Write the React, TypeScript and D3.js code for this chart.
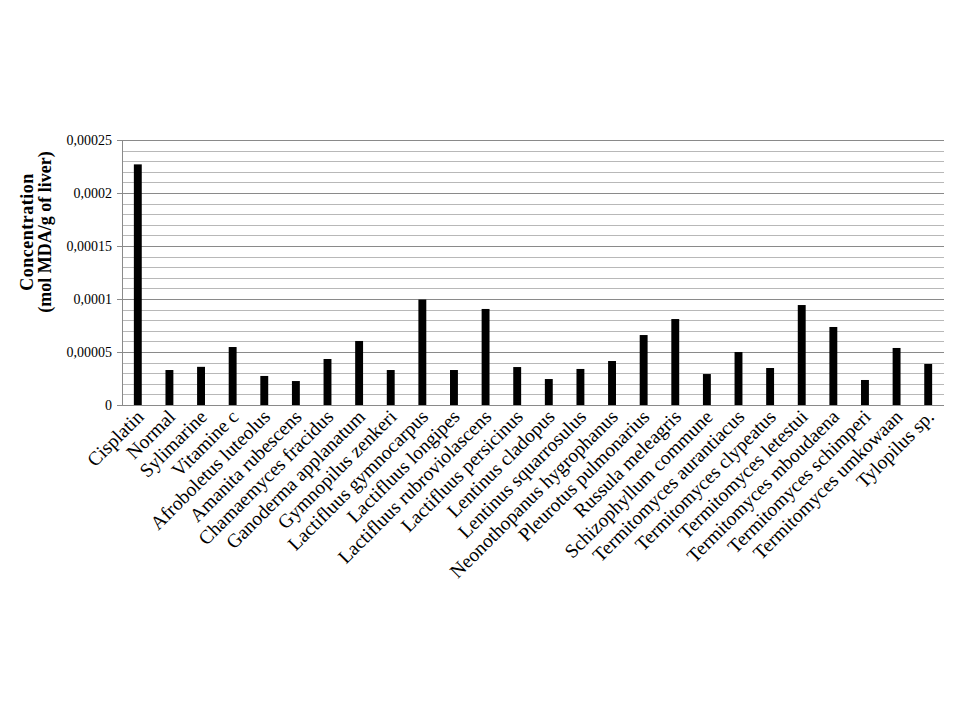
import * as d3 from 'd3'

const categories = [
  'Cisplatin',
  'Normal',
  'Sylimarine',
  'Vitamine c',
  'Afroboletus luteolus',
  'Amanita rubescens',
  'Chamaemyces fracidus',
  'Ganoderma applanatum',
  'Gymnopilus zenkeri',
  'Lactifluus gymnocarpus',
  'Lactifluus longipes',
  'Lactifluus rubroviolascens',
  'Lactifluus persicinus',
  'Lentinus cladopus',
  'Lentinus squarrosulus',
  'Neonothopanus hygrophanus',
  'Pleurotus pulmonarius',
  'Russula meleagris',
  'Schizophyllum commune',
  'Termitomyces aurantiacus',
  'Termitomyces clypeatus',
  'Termitomyces letestui',
  'Termitomyces mboudaena',
  'Termitomyces schimperi',
  'Termitomyces umkowaan',
  'Tylopilus sp.',
]

const mdaValues = [
  0.000227, 0.000033, 0.000036, 0.0000547, 0.0000274, 0.0000226, 0.0000434, 0.0000604, 0.000033,
  0.0000995, 0.000033, 0.0000906, 0.0000358, 0.0000245, 0.000034, 0.0000415, 0.000066, 0.0000811,
  0.0000292, 0.00005, 0.0000349, 0.0000943, 0.0000736, 0.0000236, 0.0000538, 0.0000387,
]

const majorTicks = [0, 0.00005, 0.0001, 0.00015, 0.0002, 0.00025]
const tickLabels = ['0', '0,00005', '0,0001', '0,00015', '0,0002', '0,00025']

const yTitle = ['Concentration', '(mol MDA/g of liver)']

export default function App() {
  const width = 960
  const height = 720
  const margin = { top: 140, right: 16, bottom: 315, left: 122 }
  const innerWidth = width - margin.left - margin.right
  const innerHeight = height - margin.top - margin.bottom

  const x = d3.scaleBand().domain(categories).range([0, innerWidth]).paddingInner(0.75).paddingOuter(0.375)
  const y = d3.scaleLinear().domain([0, 0.00025]).range([innerHeight, 0])
  // minor gridlines every 0.00001
  const minorTicks = d3.range(0, 26).map((i) => i * 0.00001)

  return (
    <svg
      width={width}
      height={height}
      style={{ position: 'absolute', left: 0, top: 0, background: '#fff', fontFamily: '"Liberation Serif", "Times New Roman", serif' }}
    >
      <g transform={`translate(${margin.left},${margin.top})`}>
        {minorTicks.map((tick, i) => (
          <line
            key={`m${i}`}
            x1={0}
            x2={innerWidth}
            y1={Math.round(y(tick)) + 0.5}
            y2={Math.round(y(tick)) + 0.5}
            stroke={i % 5 === 0 ? '#8a8a8a' : '#b8b8b8'}
          />
        ))}

        {majorTicks.map((tick, i) => (
          <g key={tick} transform={`translate(0,${Math.round(y(tick)) + 0.5})`}>
            <line x1={-5} x2={0} stroke="#8a8a8a" />
            <text x={-10} dy="0.35em" textAnchor="end" fontSize={14} fill="#000">
              {tickLabels[i]}
            </text>
          </g>
        ))}

        <line x1={0.5} x2={0.5} y1={0} y2={innerHeight} stroke="#8a8a8a" />
        <line x1={0} x2={innerWidth} y1={innerHeight + 0.5} y2={innerHeight + 0.5} stroke="#8a8a8a" />

        {categories.map((cat, i) => (
          <rect
            key={cat}
            x={x(cat) ?? 0}
            y={y(mdaValues[i])}
            width={x.bandwidth()}
            height={innerHeight - y(mdaValues[i])}
            fill="#000"
          />
        ))}

        {categories.map((cat) => {
          const cx = (x(cat) ?? 0) + x.bandwidth() / 2
          return (
            <text
              key={cat}
              transform={`translate(${cx + 7},${innerHeight + 13}) rotate(-45)`}
              textAnchor="end"
              fontSize={19.5}
              fill="#000"
            >
              {cat}
            </text>
          )
        })}
      </g>

      <g transform={`translate(0,232) rotate(-90)`}>
        {yTitle.map((line, i) => (
          <text
            key={line}
            x={0}
            y={33 + i * 18}
            textAnchor="middle"
            fontSize={18}
            fontWeight="bold"
            letterSpacing={i === 0 ? 0.5 : 0}
            fill="#000"
          >
            {line}
          </text>
        ))}
      </g>
    </svg>
  )
}
